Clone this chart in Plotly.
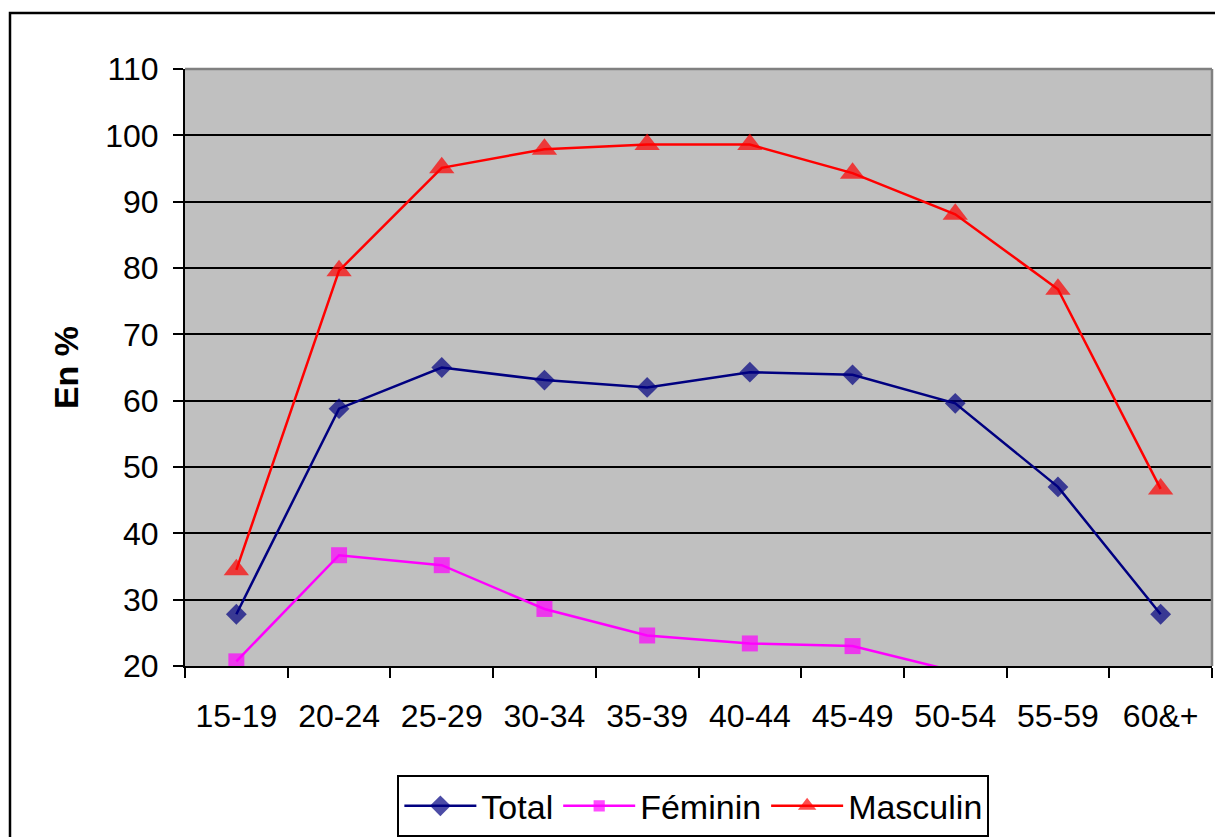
import plotly.graph_objects as go

categories = ["15-19", "20-24", "25-29", "30-34", "35-39", "40-44", "45-49", "50-54", "55-59", "60&+"]
total = [27.8, 58.8, 65.0, 63.1, 62.0, 64.3, 63.9, 59.6, 47.0, 27.8]
feminin = [20.7, 36.7, 35.2, 28.6, 24.6, 23.4, 23.0, 19.2, None, None]
masculin = [34.5, 79.6, 95.1, 97.9, 98.6, 98.6, 94.3, 88.1, 76.8, 46.7]

y_min, y_max = 20, 110
FONT = "Liberation Sans, Arial, sans-serif"


def sizes(vals, s):
    return [s if (v is not None and v >= y_min) else 0 for v in vals]


fig = go.Figure()
fig.add_trace(go.Scatter(
    x=categories, y=total, name="Total", mode="lines+markers",
    line=dict(color="#000080", width=2.5),
    marker=dict(symbol="diamond", size=sizes(total, 16), color="#000080",
                line=dict(width=0)),
))
fig.add_trace(go.Scatter(
    x=categories, y=feminin, name="Féminin", mode="lines+markers",
    line=dict(color="#FF00FF", width=2.5),
    marker=dict(symbol="square", size=sizes(feminin, 16), color="#FF00FF",
                line=dict(width=0)),
))
fig.add_trace(go.Scatter(
    x=categories, y=masculin, name="Masculin", mode="lines+markers",
    line=dict(color="#FF0000", width=2.5),
    marker=dict(symbol="triangle-up", size=sizes(masculin, 22), color="#FF0000",
                line=dict(width=0)),
))

fig.update_layout(
    width=1215, height=829,
    margin=dict(l=177, r=11, t=61, b=171, autoexpand=False),
    paper_bgcolor="white",
    plot_bgcolor="#C0C0C0",
    font=dict(family=FONT, size=32, color="black"),
    showlegend=True,
    legend=dict(
        orientation="h", x=0.495, xanchor="center", y=-0.183, yanchor="top",
        bordercolor="black", borderwidth=2, bgcolor="white",
        font=dict(family=FONT, size=34, color="black"),
        itemwidth=72, tracegroupgap=0,
    ),
    xaxis=dict(
        type="category", range=[-0.5, 9.5], tickson="boundaries",
        ticks="outside", ticklen=10, tickwidth=2, tickcolor="black",
        showline=True, linecolor="black", linewidth=2,
        showgrid=False, zeroline=False,
        tickfont=dict(family=FONT, size=32, color="black"),
        ticklabelstandoff=21,
        fixedrange=True,
    ),
    yaxis=dict(
        range=[y_min, y_max], dtick=10, tick0=0,
        ticks="outside", ticklen=10, tickwidth=2, tickcolor="black",
        showline=True, linecolor="black", linewidth=2,
        showgrid=True, gridcolor="black", gridwidth=2,
        zeroline=False,
        tickfont=dict(family=FONT, size=32, color="black"),
        ticklabelstandoff=8,
        title=dict(text="<b>En %</b>", font=dict(family=FONT, size=34, color="black"), standoff=16),
        fixedrange=True,
    ),
    shapes=[
        dict(type="line", xref="paper", yref="paper", x0=0, x1=1, y0=1, y1=1,
             line=dict(color="#808080", width=2.5), layer="above"),
        dict(type="line", xref="paper", yref="paper", x0=1, x1=1, y0=0, y1=1,
             line=dict(color="#808080", width=2.5), layer="above"),
        dict(type="rect", xref="paper", yref="paper",
             x0=-0.1704, x1=1.05, y0=-0.35, y1=1.0938,
             line=dict(color="black", width=2.5), fillcolor="rgba(0,0,0,0)", layer="below"),
    ],
)

fig.write_html("out.html")
